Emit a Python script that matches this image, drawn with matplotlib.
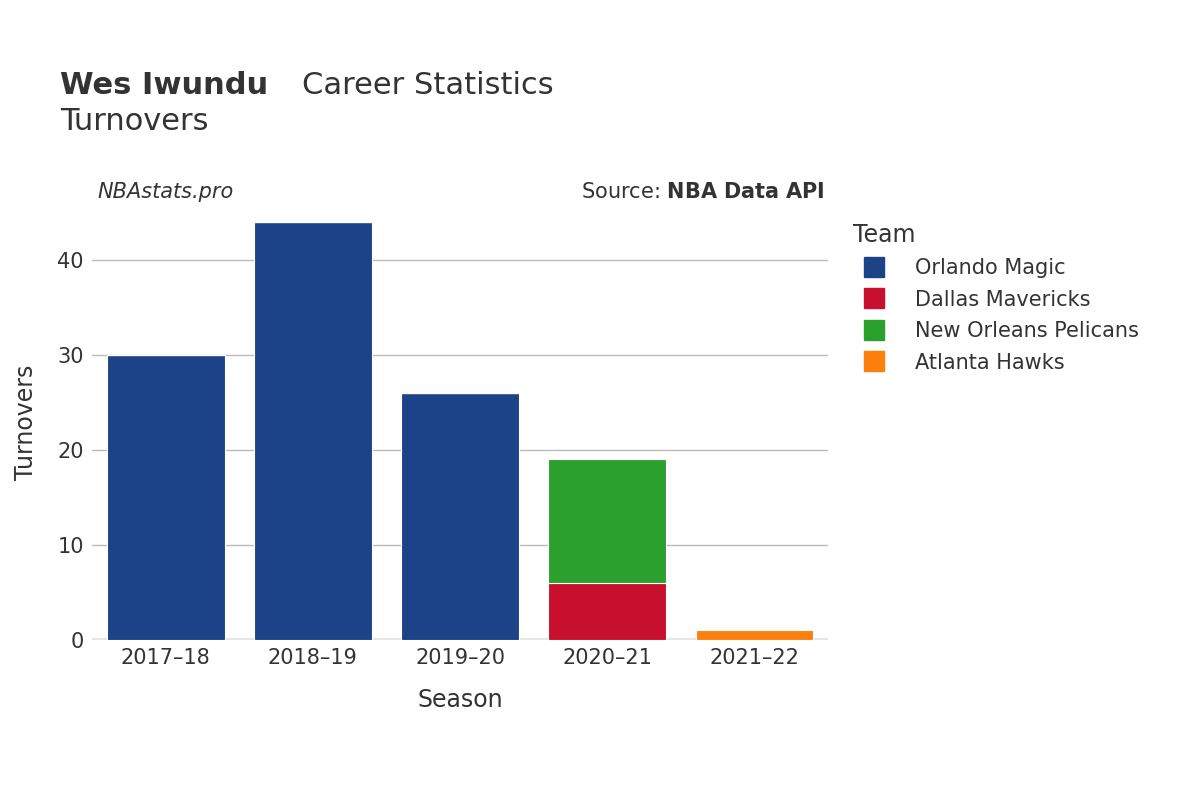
import numpy as np
import matplotlib
matplotlib.use("Agg")
from matplotlib import pyplot as plt
from matplotlib.lines import Line2D

seasons = ["2017–18", "2018–19", "2019–20", "2020–21", "2021–22"]
teams = ["Orlando Magic", "Dallas Mavericks", "New Orleans Pelicans", "Atlanta Hawks"]
colors = ["#1c4387", "#c8102e", "#2ca02c", "#fd7f0e"]
orlando = [30, 44, 26, 0, 0]
dallas = [0, 0, 0, 6, 0]
pelicans = [0, 0, 0, 13, 0]
hawks = [0, 0, 0, 0, 1]
values = [orlando, dallas, pelicans, hawks]

plt.rcParams["font.family"] = "DejaVu Sans"
txt = "#333333"
fig = plt.figure(figsize=(12, 8), dpi=100)
ax = fig.add_axes([0.0767, 0.2, 0.6133, 0.544])

x = np.arange(len(seasons))
bottom = np.zeros(len(seasons))
for team, vals, c in zip(teams, values, colors):
    vals = np.array(vals, dtype=float)
    ax.bar(x, vals, 0.8, bottom=bottom, color=c, edgecolor="white", linewidth=0.8, zorder=3)
    bottom += vals

ax.set_xlim(-0.5, 4.5)
ax.set_ylim(0, 45.8)
ax.set_yticks([0, 10, 20, 30, 40])
ax.set_xticks(x)
ax.set_xticklabels(seasons)
ax.tick_params(length=0, labelsize=15, colors=txt, pad=6)
ax.grid(axis="y", color="#bbbbbb", linewidth=1, zorder=0)
for s in ax.spines.values():
    s.set_visible(False)
ax.axhline(0, color="#e6e6e6", linewidth=3, zorder=2)
ax.set_xlabel("Season", fontsize=17, color=txt, labelpad=14)
ax.set_ylabel("Turnovers", fontsize=17, color=txt, labelpad=14)

fig.text(0.05, 0.875, "Wes Iwundu", fontsize=22, fontweight="bold", color=txt, va="bottom")
fig.text(0.252, 0.875, "Career Statistics", fontsize=22, color=txt, va="bottom")
fig.text(0.05, 0.83, "Turnovers", fontsize=22, color=txt, va="bottom")
fig.text(0.081, 0.76, "NBAstats.pro", fontsize=15, style="italic", color=txt, va="center")
fig.text(0.687, 0.76, "Source: $\\bf{NBA\\ Data\\ API}$", fontsize=15, color=txt, va="center", ha="right")

handles = [Line2D([], [], marker="s", linestyle="", markersize=15, color=c) for c in colors]
leg = fig.legend(handles, teams, loc="upper left", bbox_to_anchor=(0.695, 0.745),
                 frameon=False, fontsize=15, title="Team", title_fontsize=17,
                 labelspacing=0.55, handletextpad=1.0, labelcolor=txt)
leg.get_title().set_color(txt)
leg._legend_box.align = "left"

fig.savefig("out.png")
